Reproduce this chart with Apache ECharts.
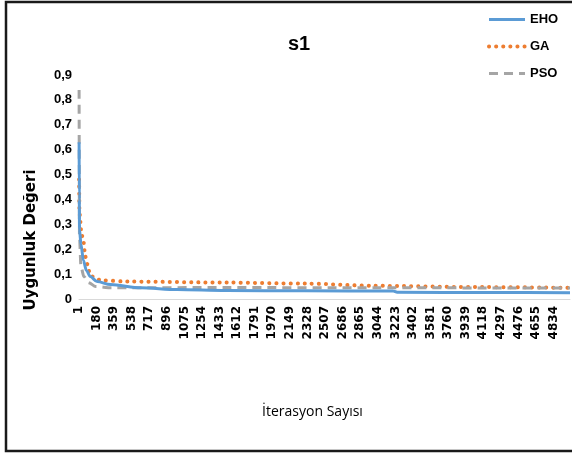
<!DOCTYPE html>
<html>
<head>
<meta charset="utf-8">
<script src="https://cdn.jsdelivr.net/npm/echarts@6/dist/echarts.min.js"></script>
<style>html,body{margin:0;padding:0;background:#fff;}#c{width:572px;height:454px;}</style>
</head>
<body>
<div id="c"></div>
<script>
var xTickLabels = ["1","180","359","538","717","896","1075","1254","1433","1612","1791","1970","2149","2328","2507","2686","2865","3044","3223","3402","3581","3760","3939","4118","4297","4476","4655","4834"];
var yTickLabels = ["0","0,1","0,2","0,3","0,4","0,5","0,6","0,7","0,8","0,9"];

// [iteration, fitness]
var ehoData = [[1,0.63],[3,0.40],[5,0.28],[20,0.22],[45,0.155],[75,0.115],[115,0.09],[185,0.07],[320,0.058],[630,0.045],[1000,0.038],[1500,0.034],[2300,0.033],[3200,0.032],[3240,0.027],[4200,0.026],[5000,0.025]];
var gaData = [[1,0.48],[5,0.345],[25,0.265],[45,0.23],[65,0.17],[85,0.14],[105,0.11],[135,0.09],[175,0.08],[230,0.075],[500,0.07],[1500,0.066],[2300,0.062],[3000,0.053],[4000,0.048],[5000,0.045]];
var psoData = [[1,0.84],[5,0.25],[20,0.13],[50,0.09],[100,0.065],[170,0.05],[330,0.045],[1500,0.046],[3000,0.045],[5000,0.044]];

var chart = echarts.init(document.getElementById('c'), null, {renderer: 'canvas'});
var txt = '#000';
chart.setOption({
  animation: false,
  backgroundColor: '#fff',
  title: {
    text: 's1', left: 283, top: 29,
    textStyle: {fontFamily: 'Liberation Sans', fontWeight: 'bold', fontSize: 20, color: txt}
  },
  legend: {
    orient: 'vertical', left: 487, top: 13, padding: 0, itemWidth: 36, itemHeight: 14, itemGap: 14,
    itemStyle: {opacity: 0},
    lineStyle: {width: 'inherit', type: 'inherit', cap: 'inherit'},
    textStyle: {fontFamily: 'Liberation Sans', fontWeight: 'bold', fontSize: 13, color: txt},
    data: ['EHO', 'GA', 'PSO']
  },
  grid: {left: 79, top: 75, width: 491, height: 224, containLabel: false},
  xAxis: {
    type: 'value', min: 0, max: 5000, interval: 179,
    name: 'İterasyon Sayısı', nameLocation: 'middle', nameGap: 106,
    nameTextStyle: {fontFamily: 'Open Sans', fontSize: 14, color: txt, padding: [0, 24, 0, 0]},
    axisLine: {show: true, lineStyle: {color: '#D9D9D9', width: 1}},
    axisTick: {show: false},
    splitLine: {show: false},
    axisLabel: {
      rotate: 90, margin: 7, showMinLabel: true, showMaxLabel: true,
      fontFamily: 'DejaVu Sans', fontWeight: 'bold', fontSize: 12, color: txt,
      formatter: function (v) { var i = Math.round(v / 179); return (Math.abs(i * 179 - v) < 0.01 && xTickLabels[i]) ? xTickLabels[i] : ''; }
    }
  },
  yAxis: {
    type: 'value', min: 0, max: 0.9, interval: 0.1,
    axisLine: {show: false}, axisTick: {show: false}, splitLine: {show: false},
    axisLabel: {
      margin: 7, fontFamily: 'Liberation Sans', fontWeight: 'bold', fontSize: 13, color: txt,
      formatter: function (v) { return yTickLabels[Math.round(v * 10)]; }
    }
  },
  graphic: [
    {type: 'rect', shape: {x: 6, y: 2, width: 620, height: 449}, style: {fill: 'none', stroke: '#1a1a1a', lineWidth: 2.5}, silent: true},
    {type: 'text', x: 31, y: 240, rotation: Math.PI / 2,
     style: {text: 'Uygunluk Değeri', fill: txt, font: 'bold 15px "DejaVu Sans"', align: 'center', verticalAlign: 'middle'}}
  ],
  series: [
    {name: 'GA', type: 'line', data: gaData, symbol: 'none', smooth: 0.3, smoothMonotone: 'x', z: 2,
     itemStyle: {color: '#ED7D31'},
     lineStyle: {color: '#ED7D31', width: 4, type: [0.1, 7], cap: 'round'}},
    {name: 'PSO', type: 'line', data: psoData, symbol: 'none', smooth: 0.3, smoothMonotone: 'x', z: 3,
     itemStyle: {color: '#A5A5A5'},
     lineStyle: {color: '#A5A5A5', width: 3, type: [9, 6]}},
    {name: 'EHO', type: 'line', data: ehoData, symbol: 'none', smooth: 0.3, smoothMonotone: 'x', z: 4,
     itemStyle: {color: '#5B9BD5'},
     lineStyle: {color: '#5B9BD5', width: 3}}
  ]
});
</script>
</body>
</html>
